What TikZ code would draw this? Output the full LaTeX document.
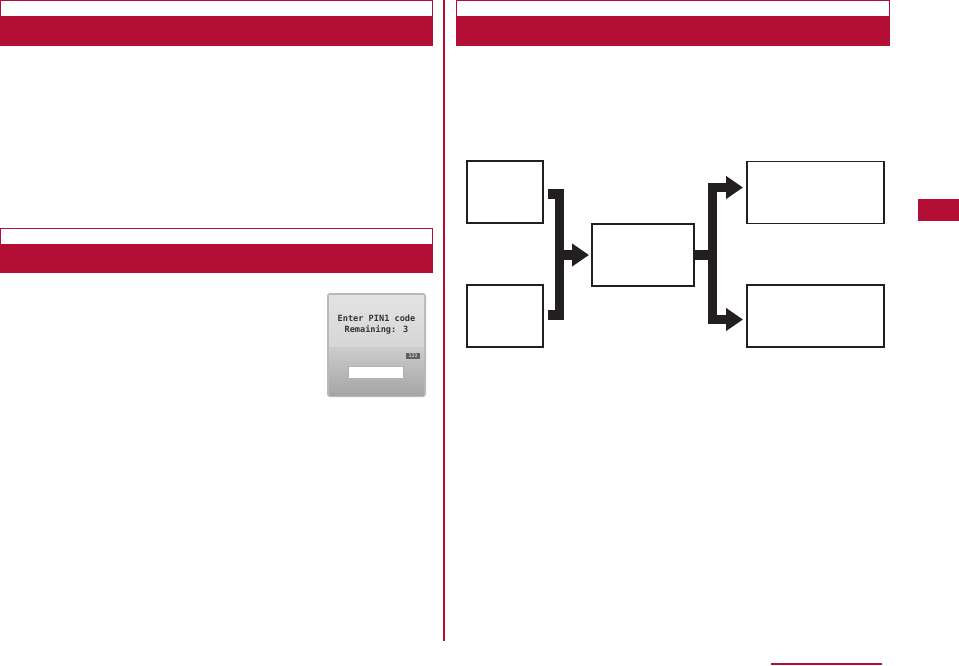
\documentclass[tikz,border=0pt]{standalone}
\usepackage{fontspec}
\newfontfamily\screenfont{DejaVu Sans Mono}
\usetikzlibrary{arrows.meta,positioning}
\definecolor{docRed}{HTML}{B20E36}
\definecolor{barBlack}{HTML}{231F20}

\begin{document}
\begin{tikzpicture}[x=0.5pt,y=-0.5pt,
    every node/.style={inner sep=0pt, outer sep=0pt},
    blk/.style={draw=barBlack, line width=0.6pt, minimum height=31pt},
    bar/.style={draw=barBlack, line width=4.7pt},
    bararr/.style={bar, -{Triangle[length=8.5pt, width=11pt]}},
    headline/.style={draw=docRed, line width=0.7pt},
    headbar/.style={fill=docRed},
    screentext/.style={font=\screenfont\bfseries\fontsize{4.3}{5}\selectfont, text=black!80},
  ]
  \useasboundingbox (0,0) rectangle (959,665);

  % Section headers
  \draw[headline] (0.5,0.5) rectangle (432.5,17);
  \fill[headbar] (0,17) rectangle (433,46);
  \draw[headline] (456.5,0.5) rectangle (889.5,17);
  \fill[headbar] (456,17) rectangle (890,46);
  \draw[headline] (0.5,228.5) rectangle (432.5,245);
  \fill[headbar] (0,245) rectangle (433,273);

  % Column divider, side tab, footer rule
  \draw[docRed, line width=0.7pt] (444,0) -- (444,641);
  \fill[docRed] (918,199) rectangle (959,221);
  \draw[docRed, line width=0.9pt] (771,664) -- (882,664);

  % Screen image
  \fill[gray!55, rounded corners=1.5pt] (327,293) rectangle (426,397);
  \shade[top color=gray!22, bottom color=gray!32] (329,295) rectangle (424,347);
  \shade[top color=gray!40, bottom color=gray!70] (329,347) rectangle (424,395);
  \node[screentext] (pin) at (376.5,318) {Enter PIN1 code};
  \node[screentext] (rem) at (376.5,330) {Remaining: 3};
  \fill[gray!75!black] (406,352.5) rectangle (420,359);
  \node[font=\screenfont\fontsize{2.4}{2.4}\selectfont, text=white] (mode) at (413,355.8) {123};
  \draw[gray!60, fill=white, line width=0.4pt] (348,366) rectangle (403,378);

  % Flow boxes
  \node[blk, minimum width=38pt] (srcA) at (505,192) {};
  \node[blk, minimum width=38pt] (srcB) at (505,316) {};
  \node[blk, minimum width=51pt] (mid) at (643,255) {};
  \node[blk, minimum width=68.5pt] (outA) at (815.5,192.5) {};
  \node[blk, minimum width=68.5pt] (outB) at (815.5,316) {};

  % Bracket connectors
  \coordinate (jl) at (559.5,255);
  \coordinate (jr) at (712.5,255);
  \draw[bar] ([xshift=2.5pt, yshift=-1pt]srcA.east) -| (jl) |- ([xshift=2.5pt, yshift=0.5pt]srcB.east);
  \draw[bararr] (jl) -- ([xshift=-1.5pt]mid.west);
  \draw[bar] (mid.east) -- (jr);
  \draw[bararr] (jr) |- ([xshift=-2pt, yshift=2.5pt]outA.west);
  \draw[bararr] (jr) |- ([xshift=-2pt, yshift=-1.75pt]outB.west);
\end{tikzpicture}
\end{document}
